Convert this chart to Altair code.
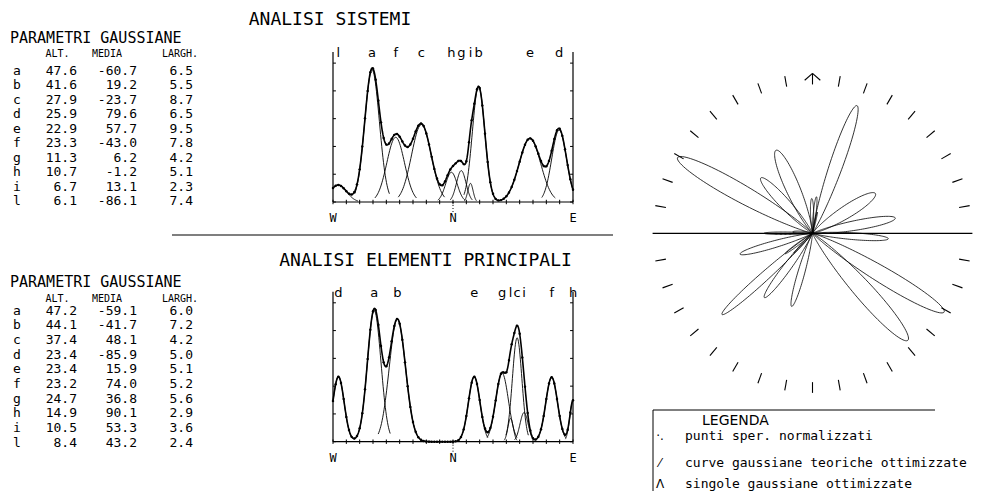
import altair as alt
import numpy as np
import pandas as pd

# ---------------- data ----------------
labels = ["a", "b", "c", "d", "e", "f", "g", "h", "i", "l"]

# ANALISI SISTEMI : gaussian parameters (height, mean direction, half width)
alt_sis = [47.6, 41.6, 27.9, 25.9, 22.9, 23.3, 11.3, 10.7, 6.7, 6.1]
media_sis = [-60.7, 19.2, -23.7, 79.6, 57.7, -43.0, 6.2, -1.2, 13.1, -86.1]
largh_sis = [6.5, 5.5, 8.7, 6.5, 9.5, 7.8, 4.2, 5.1, 2.3, 7.4]

# ANALISI ELEMENTI PRINCIPALI
alt_ele = [47.2, 44.1, 37.4, 23.4, 23.4, 23.2, 24.7, 14.9, 10.5, 8.4]
media_ele = [-59.1, -41.7, 48.1, -85.9, 15.9, 74.0, 36.8, 90.1, 53.3, 43.2]
largh_ele = [6.0, 7.2, 4.2, 5.0, 5.1, 5.2, 5.6, 2.9, 3.6, 2.4]

dir_ticks = list(range(-90, 91, 10))
dir_label_pos = [-90, 0, 90]
dir_labels = ["W", "N", "E"]
height_ticks = [0, 10, 20, 30, 40, 50]
rose_ticks = [a for a in range(10, 360, 10) if a not in (90, 270)]
legend_symbols = ["·.", "⁄", "Λ"]
legend_texts = ["punti sper. normalizzati",
                "curve gaussiane teoriche ottimizzate",
                "singole gaussiane ottimizzate"]

MONO = "DejaVu Sans Mono"
SANS = "DejaVu Sans"
W, H = 978, 483
one = pd.DataFrame({"k": [0]})


def gauss(x, a, m, w):
    return a * np.power(2.0, -((x - m) / w) ** 2)


def txt(s, x, y, size, align="left", font=MONO):
    return alt.Chart(one).mark_text(
        text=s, fontSize=size, align=align, baseline="middle", font=font, color="black"
    ).encode(x=alt.value(x), y=alt.value(y))


def table(A, M, Wd, y_title, y_head, y0, y9):
    df = pd.DataFrame({
        "row": list(range(len(labels))),
        "lab": labels,
        "alt": [f"{v:.1f}" for v in A],
        "med": [f"{v:.1f}" for v in M],
        "lar": [f"{v:.1f}" for v in Wd],
    })
    ysc = alt.Scale(domain=[0, 9], range=[y0, y9], nice=False, zero=False)
    base = alt.Chart(df).encode(y=alt.Y("row:Q", scale=ysc, axis=None))
    mk = dict(fontSize=13, font=MONO, baseline="middle", color="black")
    return alt.layer(
        base.mark_text(align="center", **mk).encode(x=alt.value(9), text="lab:N"),
        base.mark_text(align="right", **mk).encode(x=alt.value(69), text="alt:N"),
        base.mark_text(align="right", **mk).encode(x=alt.value(129), text="med:N"),
        base.mark_text(align="right", **mk).encode(x=alt.value(185), text="lar:N"),
        txt("PARAMETRI GAUSSIANE", 2, y_title, 15),
        txt("ALT.", 49.5, y_head, 10, "center"),
        txt("MEDIA", 99, y_head, 10, "center"),
        txt("LARGH.", 172, y_head, 10, "center"),
    )


def panel(A, M, Wd, y_base):
    xsc = alt.Scale(domain=[-90, 90], range=[325, 565], nice=False, zero=False)
    ysc = alt.Scale(domain=[0, 54], range=[y_base, y_base - 150], nice=False, zero=False)
    X = lambda f: alt.X(f, scale=xsc, axis=None)
    Y = lambda f: alt.Y(f, scale=ysc, axis=None)

    grid = np.arange(-90, 90.01, 0.5)
    total = sum(gauss(grid, a, m, w) for a, m, w in zip(A, M, Wd))
    sum_df = pd.DataFrame({"x": grid, "y": total})
    pgrid = np.arange(-90, 90.01, 2.0)
    ptotal = sum(gauss(pgrid, a, m, w) for a, m, w in zip(A, M, Wd))
    pts_df = pd.DataFrame({"x": pgrid, "y": ptotal})

    comp = []
    for k, (a, m, w) in enumerate(zip(A, M, Wd)):
        xs = np.linspace(max(-90, m - 2 * w), min(90, m + 2 * w), 60)
        for j, xv in enumerate(xs):
            comp.append({"id": k, "i": j, "x": xv, "y": gauss(xv, a, m, w)})
    comp_df = pd.DataFrame(comp)

    lo, hi = dir_ticks[0], dir_ticks[-1]
    top = 54
    frame = pd.DataFrame({"x": [lo, hi], "y": [0, 0], "y2": [top, top]})
    base_df = pd.DataFrame({"x": [lo], "x2": [hi], "y": [0]})
    yt = pd.DataFrame([{"x": lo, "x2": lo + 2.2, "y": v} for v in height_ticks]
                      + [{"x": hi - 2.2, "x2": hi, "y": v} for v in height_ticks])
    xt = pd.DataFrame({"x": dir_ticks, "y": [-0.8] * len(dir_ticks), "y2": [0.8] * len(dir_ticks)})
    nline = pd.DataFrame({"x": [0], "y": [-3.6], "y2": [0]})
    dl = pd.DataFrame({"x": dir_label_pos, "t": dir_labels})
    pk = pd.DataFrame({"x": M, "t": labels})

    return alt.layer(
        alt.Chart(frame).mark_rule(color="black", strokeWidth=1.2).encode(x=X("x:Q"), y=Y("y:Q"), y2="y2:Q"),
        alt.Chart(base_df).mark_rule(color="black", strokeWidth=1.2).encode(x=X("x:Q"), x2="x2:Q", y=Y("y:Q")),
        alt.Chart(yt).mark_rule(color="black", strokeWidth=1).encode(x=X("x:Q"), x2="x2:Q", y=Y("y:Q")),
        alt.Chart(xt).mark_rule(color="black", strokeWidth=1).encode(x=X("x:Q"), y=Y("y:Q"), y2="y2:Q"),
        alt.Chart(nline).mark_rule(color="black", strokeWidth=1, strokeDash=[1, 2]).encode(x=X("x:Q"), y=Y("y:Q"), y2="y2:Q"),
        alt.Chart(comp_df).mark_line(color="black", strokeWidth=0.9).encode(
            x=X("x:Q"), y=Y("y:Q"), detail="id:N", order="i:Q"),
        alt.Chart(sum_df).mark_line(color="black", strokeWidth=1.6).encode(x=X("x:Q"), y=Y("y:Q")),
        alt.Chart(pts_df).mark_circle(color="black", size=6, opacity=1).encode(x=X("x:Q"), y=Y("y:Q")),
        alt.Chart(dl).mark_text(font=MONO, fontSize=12, baseline="middle", color="black").encode(
            x=X("x:Q"), y=alt.value(y_base + 16), text="t:N"),
        alt.Chart(pk).mark_text(font=SANS, fontSize=13, baseline="middle", color="black").encode(
            x=X("x:Q"), y=alt.value(y_base - 149), text="t:N"),
    )


def rose():
    xsc = alt.Scale(domain=[-50, 50], range=[642, 967], nice=False, zero=False)
    ysc = alt.Scale(domain=[-50, 50], range=[387.8, 62.8], nice=False, zero=False)
    X = lambda f: alt.X(f, scale=xsc, axis=None)
    Y = lambda f: alt.Y(f, scale=ysc, axis=None)

    rows = []
    pid = 0
    for A, M, Wd, rot in ((alt_sis, media_sis, largh_sis, 0.0), (alt_ele, media_ele, largh_ele, 180.0)):
        for a, m, w in zip(A, M, Wd):
            phis = np.linspace(m - 3 * w, m + 3 * w, 161)
            r = gauss(phis, a, m, w)
            ang = np.radians(phis + rot)
            for j in range(len(phis)):
                rows.append({"pid": pid, "i": j, "x": r[j] * np.sin(ang[j]), "y": r[j] * np.cos(ang[j])})
            pid += 1
    petals = pd.DataFrame(rows)

    r_in, r_out = 45.8, 49.1
    tk = pd.DataFrame([{
        "x": r_in * np.sin(np.radians(a)), "y": r_in * np.cos(np.radians(a)),
        "x2": r_out * np.sin(np.radians(a)), "y2": r_out * np.cos(np.radians(a))} for a in rose_ticks])
    hline = pd.DataFrame({"x": [-r_out - 0.1], "x2": [r_out + 0.1], "y": [0]})
    arrow = pd.DataFrame({
        "x": [0, 0, 0], "y": [r_in, r_out + 0.1, r_out + 0.1],
        "x2": [0, -2.4, 2.4], "y2": [r_out + 0.1, r_out - 2.0, r_out - 2.0]})

    return alt.layer(
        alt.Chart(hline).mark_rule(color="black", strokeWidth=1.2).encode(x=X("x:Q"), x2="x2:Q", y=Y("y:Q")),
        alt.Chart(tk).mark_rule(color="black", strokeWidth=1.1).encode(x=X("x:Q"), y=Y("y:Q"), x2="x2:Q", y2="y2:Q"),
        alt.Chart(arrow).mark_rule(color="black", strokeWidth=1.1).encode(x=X("x:Q"), y=Y("y:Q"), x2="x2:Q", y2="y2:Q"),
        alt.Chart(petals).mark_line(color="black", strokeWidth=0.8).encode(
            x=X("x:Q"), y=Y("y:Q"), detail="pid:N", order="i:Q"),
    )


def legend():
    items_y = [428, 455, 475.5]
    layers = [
        alt.Chart(one).mark_rule(color="black", strokeWidth=1).encode(
            x=alt.value(645), y=alt.value(402), y2=alt.value(H)),
        alt.Chart(one).mark_rule(color="black", strokeWidth=1).encode(
            x=alt.value(645), x2=alt.value(927), y=alt.value(402)),
        txt("LEGENDA", 694, 413, 14, "left", SANS),
    ]
    for s, t, y in zip(legend_symbols, legend_texts, items_y):
        layers.append(txt(s, 652, y, 12, "center", SANS))
        layers.append(txt(t, 677, y, 13, "left", MONO))
    return alt.layer(*layers)


sep = alt.Chart(one).mark_rule(color="black", strokeWidth=1.2).encode(
    x=alt.value(164), x2=alt.value(605), y=alt.value(227))

chart = alt.layer(
    txt("ANALISI SISTEMI", 322, 12, 18, "center"),
    txt("ANALISI ELEMENTI PRINCIPALI", 417.5, 253, 18, "center"),
    sep,
    table(alt_sis, media_sis, largh_sis, 29.7, 45.5, 62.5, 193.0),
    table(alt_ele, media_ele, largh_ele, 273.7, 290.5, 302.5, 434.5),
    panel(alt_sis, media_sis, largh_sis, 194.0),
    panel(alt_ele, media_ele, largh_ele, 433.7),
    rose(),
    legend(),
).resolve_scale(x="independent", y="independent").properties(
    width=W, height=H, padding=0, autosize=alt.AutoSizeParams(type="none"),
    background="white",
).configure_view(stroke=None)

chart.save("out.html", embed_options={"renderer": "svg", "actions": False})
